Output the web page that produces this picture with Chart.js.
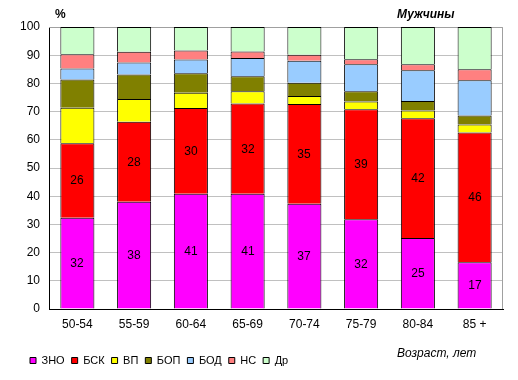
<!DOCTYPE html>
<html>
<head>
    <meta charset="utf-8">
    <title>Мужчины</title>
    <script src="https://cdn.jsdelivr.net/npm/chart.js"></script>
    <style>
        body { margin: 0; background: #FFFFFF; }
        .chart-box { position: relative; width: 518px; height: 380px; }
    </style>
</head>
<body>
    <div class="chart-box">
        <canvas id="barChart"></canvas>
    </div>
<script>
    // age groups
    var ageGroups = ["50-54", "55-59", "60-64", "65-69", "70-74", "75-79", "80-84", "85 +"];

    // shares by cause, %
    var zno = [32.4, 38.0, 40.9, 40.9, 37.3, 31.8, 25.2, 16.6];
    var bsk = [26.4, 28.4, 30.4, 32.0, 35.4, 39.0, 42.4, 46.0];
    var vp  = [12.6, 8.1, 5.4, 4.3, 2.8, 2.8, 2.8, 2.8];
    var bop = [10.0, 8.7, 6.9, 5.3, 4.7, 3.6, 3.4, 3.2];
    var bod = [3.9, 4.2, 4.9, 6.5, 7.8, 9.6, 10.9, 12.5];
    var ns  = [5.0, 3.8, 3.2, 2.3, 2.2, 1.8, 2.1, 3.9];
    var dr  = [9.7, 8.8, 8.3, 8.7, 9.8, 11.4, 13.2, 15.0];

    var yTicks = { min: 0, max: 100, step: 10 };

    var seriesNames = ["ЗНО", "БСК", "ВП", "БОП", "БОД", "НС", "Др"];
    var seriesData = [zno, bsk, vp, bop, bod, ns, dr];
    var seriesColors = ["#FF00FF", "#FF0000", "#FFFF00", "#808000", "#99CCFF", "#FF8080", "#CCFFCC"];
    var labelledSeries = [0, 1];

    var fontName = "'Liberation Sans', Arial, sans-serif";

    // numbers inside the two lower segments
    var segmentLabels = {
        id: "segmentLabels",
        afterDatasetsDraw: function(chart) {
            var ctx = chart.ctx;
            ctx.save();
            ctx.font = "12px " + fontName;
            ctx.fillStyle = "#000000";
            ctx.textAlign = "center";
            ctx.textBaseline = "middle";
            labelledSeries.forEach(function(i) {
                var meta = chart.getDatasetMeta(i);
                meta.data.forEach(function(bar, j) {
                    var v = chart.data.datasets[i].data[j];
                    ctx.fillText(Math.round(v), Math.round(bar.x), Math.round((bar.y + bar.base) / 2) + 1);
                });
            });
            ctx.restore();
        }
    };

    // frame, free texts, legend nudge
    var extras = {
        id: "extras",
        afterLayout: function(chart) {
            if (chart.legend) chart.legend.left += 4;
        },
        beforeDatasetsDraw: function(chart) {
            var a = chart.chartArea, ctx = chart.ctx;
            ctx.save();
            ctx.strokeStyle = "#A0A0A0";
            ctx.lineWidth = 1;
            ctx.beginPath();
            ctx.moveTo(a.left, a.top + 0.5);
            ctx.lineTo(a.right - 0.5, a.top + 0.5);
            ctx.lineTo(a.right - 0.5, a.bottom);
            ctx.stroke();
            ctx.restore();
        },
        afterDraw: function(chart) {
            var a = chart.chartArea, ctx = chart.ctx;
            ctx.save();
            ctx.fillStyle = "#000000";
            ctx.textBaseline = "middle";
            ctx.font = "bold 12px " + fontName;
            ctx.fillText("%", a.left + 6, 15);
            ctx.font = "italic bold 12px " + fontName;
            ctx.fillText("Мужчины", 397, 15);
            ctx.font = "italic 12px " + fontName;
            ctx.fillText("Возраст, лет", 397, 354);
            ctx.restore();
        }
    };

    var datasets = seriesNames.map(function(name, i) {
        return {
            label: name,
            data: seriesData[i],
            backgroundColor: seriesColors[i],
            borderColor: "#000000",
            borderWidth: 1,
            borderSkipped: "start",
            inflateAmount: 0,
            barPercentage: 0.6,
            categoryPercentage: 1.0
        };
    });

    new Chart(document.getElementById("barChart"), {
        type: "bar",
        data: { labels: ageGroups, datasets: datasets },
        plugins: [segmentLabels, extras],
        options: {
            responsive: true,
            maintainAspectRatio: false,
            animation: false,
            layout: { padding: { left: 19, right: 15, top: 27, bottom: 4 } },
            plugins: {
                tooltip: { enabled: false },
                legend: {
                    position: "bottom",
                    align: "start",
                    labels: {
                        boxWidth: 6,
                        boxHeight: 6,
                        padding: 7,
                        color: "#000000",
                        font: { size: 11, family: fontName }
                    }
                }
            },
            scales: {
                x: {
                    stacked: true,
                    grid: { display: false, drawTicks: false },
                    border: { color: "#000000", width: 1 },
                    ticks: { color: "#000000", padding: 8, font: { size: 12, family: fontName } },
                    afterFit: function(scale) { scale.height = 39; }
                },
                y: {
                    stacked: true,
                    min: yTicks.min,
                    max: yTicks.max,
                    grid: { color: "#C0C0C0", drawTicks: false },
                    border: { color: "#000000", width: 1 },
                    ticks: { stepSize: yTicks.step, color: "#000000", padding: 9, font: { size: 12, family: fontName } },
                    afterFit: function(scale) { scale.width = 30; }
                }
            }
        }
    });
</script>
</body>
</html>
